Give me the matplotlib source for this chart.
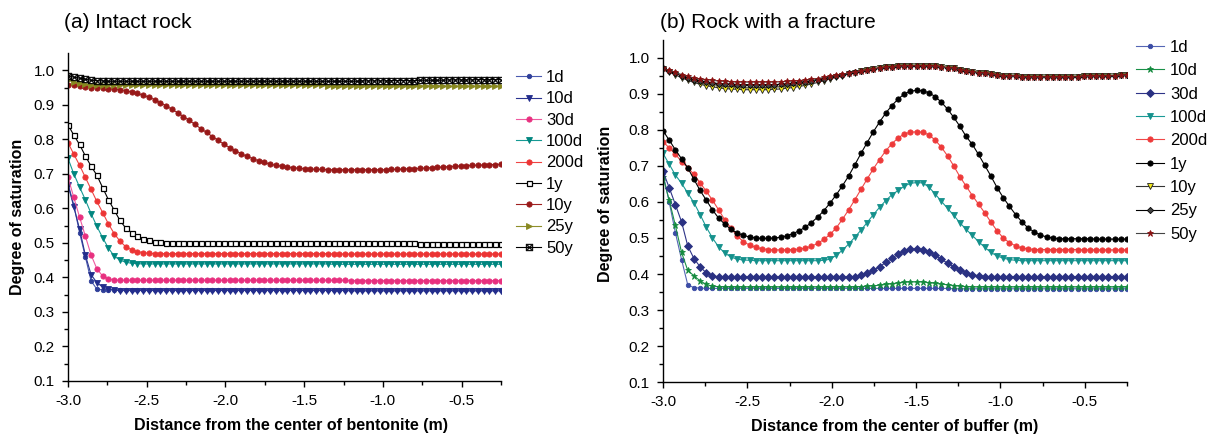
import numpy as np
import matplotlib
matplotlib.use("Agg")
import matplotlib.pyplot as plt

plt.rcParams['font.family'] = ['Liberation Sans', 'DejaVu Sans']

# node positions (m), 76 nodes from -3.0 to -0.25
distance = np.linspace(-3.0, -0.25, 76)

labels = ['1d', '10d', '30d', '100d', '200d', '1y', '10y', '25y', '50y']

# (a) intact rock
a_1d = [0.672, 0.61, 0.53, 0.46, 0.39, 0.366, 0.364] + [0.364] * 30 + [0.363] * 39
a_10d = [0.668, 0.605, 0.54, 0.465, 0.408, 0.385, 0.372, 0.366, 0.363] + [0.362] * 40 + [0.361] * 27
a_30d = [0.69, 0.632, 0.575, 0.52, 0.465, 0.425, 0.404, 0.396, 0.393] + [0.392] * 40 + [0.391] * 27
a_100d = [0.745, 0.70, 0.662, 0.625, 0.585, 0.548, 0.515, 0.485, 0.462, 0.45, 0.444, 0.441,
          0.44] + [0.439] * 33 + [0.438] * 30
a_200d = [0.79, 0.757, 0.725, 0.69, 0.655, 0.62, 0.588, 0.555, 0.527, 0.505, 0.489, 0.48,
          0.475, 0.472, 0.47] + [0.469] * 31 + [0.468] * 30
a_1y = [0.842, 0.812, 0.785, 0.752, 0.722, 0.696, 0.66, 0.625, 0.595, 0.565, 0.543, 0.53,
        0.52, 0.512, 0.507, 0.503, 0.502, 0.501] + [0.5] * 23 + [0.499] * 20 + [0.498] * 15
a_10y = [0.958, 0.956, 0.954, 0.952, 0.950, 0.949, 0.948, 0.947, 0.946, 0.944,
         0.941, 0.937, 0.933, 0.928, 0.922, 0.915, 0.906, 0.897, 0.887, 0.877,
         0.866, 0.855, 0.843, 0.831, 0.82, 0.808, 0.797, 0.786, 0.776, 0.767,
         0.758, 0.751, 0.744, 0.738, 0.733, 0.728, 0.725, 0.722, 0.72, 0.718,
         0.716, 0.715, 0.714, 0.713, 0.713, 0.712, 0.712, 0.712, 0.712, 0.712,
         0.712, 0.712, 0.712, 0.712, 0.712, 0.712, 0.713, 0.713, 0.714, 0.715,
         0.715, 0.716, 0.717, 0.718, 0.719, 0.72, 0.721, 0.722, 0.723, 0.724,
         0.725, 0.725, 0.726, 0.727, 0.727, 0.728]
a_25y = [0.972, 0.966, 0.962, 0.959, 0.958] + [0.957] * 20 + [0.956] * 20 + [0.955] * 10 \
    + [0.955] * 11 + [0.954] * 10
a_50y = [0.984, 0.98, 0.977, 0.974, 0.971, 0.97, 0.969] + [0.968] * 44 + [0.969] * 5 \
    + [0.97] * 5 + [0.971] * 5 + [0.972] * 5 + [0.973] * 5

# (b) rock with a fracture
b_1d = [0.68, 0.60, 0.515, 0.44, 0.37, 0.362, 0.361] + [0.36] * 40 + [0.359] * 29
b_10d = [0.67, 0.605, 0.535, 0.46, 0.41, 0.395, 0.381, 0.371, 0.366, 0.365] + [0.364] * 22 \
    + [0.365, 0.366, 0.367, 0.369, 0.371, 0.373, 0.375, 0.377, 0.378, 0.378, 0.378, 0.376,
       0.374, 0.372, 0.37, 0.368, 0.366, 0.365] + [0.364] * 26
b_30d = [0.685, 0.64, 0.593, 0.545, 0.478, 0.443, 0.42, 0.403, 0.395] + [0.392] * 22 \
    + [0.393, 0.396, 0.402, 0.41, 0.42, 0.432, 0.444, 0.455, 0.464, 0.469, 0.47, 0.468,
       0.462, 0.452, 0.441, 0.43, 0.42, 0.411, 0.404, 0.398, 0.395, 0.393] + [0.392] * 23
b_100d = [0.735, 0.705, 0.675, 0.652, 0.625, 0.598, 0.565, 0.53, 0.50, 0.475, 0.458, 0.447,
          0.441, 0.439, 0.438] + [0.437] * 11 \
    + [0.438, 0.441, 0.452, 0.466, 0.483, 0.502, 0.522, 0.543, 0.565, 0.585, 0.604, 0.62,
       0.632, 0.644, 0.652, 0.654, 0.653, 0.641, 0.622, 0.602, 0.582, 0.563, 0.542, 0.524,
       0.507, 0.49, 0.474, 0.46, 0.45, 0.444, 0.44, 0.438] + [0.437] * 18
b_200d = [0.768, 0.75, 0.733, 0.712, 0.695, 0.677, 0.653, 0.63, 0.605, 0.578,
          0.55, 0.527, 0.505, 0.49, 0.48, 0.474, 0.47, 0.468, 0.467, 0.467,
          0.467, 0.468, 0.469, 0.472, 0.477, 0.485, 0.496, 0.51, 0.528, 0.552,
          0.578, 0.606, 0.635, 0.664, 0.692, 0.718, 0.742, 0.762, 0.778, 0.789,
          0.794, 0.795, 0.794, 0.786, 0.772, 0.752, 0.728, 0.70, 0.67, 0.644,
          0.618, 0.594, 0.57, 0.544, 0.52, 0.5, 0.487, 0.478, 0.472, 0.47] \
    + [0.468] * 8 + [0.467] * 8
b_1y = [0.798, 0.772, 0.745, 0.72, 0.695, 0.663, 0.632, 0.605, 0.578, 0.555,
        0.538, 0.524, 0.514, 0.507, 0.503, 0.5, 0.499, 0.499, 0.5, 0.502,
        0.506, 0.512, 0.52, 0.53, 0.543, 0.558, 0.576, 0.597, 0.62, 0.645,
        0.672, 0.703, 0.735, 0.765, 0.795, 0.822, 0.847, 0.868, 0.886, 0.9,
        0.908, 0.91, 0.909, 0.903, 0.893, 0.877, 0.858, 0.835, 0.81, 0.782,
        0.76, 0.732, 0.702, 0.672, 0.64, 0.612, 0.588, 0.565, 0.545, 0.528,
        0.517, 0.508, 0.503, 0.5] + [0.498] * 6 + [0.497] * 6
b_10y = [0.97, 0.962, 0.953, 0.945, 0.938, 0.932, 0.927, 0.923, 0.92, 0.917,
         0.915, 0.914, 0.913, 0.912, 0.912, 0.912, 0.912, 0.912, 0.913, 0.914,
         0.916, 0.918, 0.921, 0.924, 0.928, 0.932, 0.937, 0.942, 0.947, 0.951,
         0.955, 0.959, 0.963, 0.966, 0.969, 0.972, 0.974, 0.976, 0.977, 0.978,
         0.979, 0.979, 0.979, 0.978, 0.977, 0.975, 0.973, 0.971, 0.968, 0.965,
         0.962, 0.959, 0.957, 0.955, 0.953, 0.951, 0.95, 0.949, 0.948, 0.947,
         0.947, 0.947, 0.947, 0.947, 0.947, 0.948, 0.948, 0.948, 0.949, 0.949,
         0.95, 0.95, 0.951, 0.951, 0.952, 0.952]
b_25y = [0.971, 0.964, 0.957, 0.95, 0.944, 0.94, 0.936, 0.933, 0.931, 0.929,
         0.928, 0.927, 0.926, 0.926, 0.926, 0.926, 0.926, 0.926, 0.926, 0.927,
         0.928, 0.93, 0.932, 0.934, 0.937, 0.94, 0.943, 0.947, 0.95, 0.954,
         0.957, 0.96, 0.963, 0.966, 0.969, 0.972, 0.974, 0.976, 0.977, 0.978,
         0.979, 0.979, 0.979, 0.978, 0.977, 0.975, 0.973, 0.971, 0.968, 0.965,
         0.962, 0.959, 0.957, 0.955, 0.953, 0.951, 0.95, 0.949, 0.948, 0.947,
         0.947, 0.947, 0.947, 0.947, 0.947, 0.948, 0.948, 0.948, 0.949, 0.949,
         0.95, 0.95, 0.951, 0.951, 0.952, 0.952]
b_50y = [0.972, 0.966, 0.96, 0.954, 0.949, 0.945, 0.942, 0.94, 0.938, 0.936,
         0.935, 0.934, 0.933, 0.933, 0.933, 0.933, 0.933, 0.933, 0.933, 0.934,
         0.935, 0.936, 0.937, 0.939, 0.941, 0.943, 0.946, 0.949, 0.952, 0.955,
         0.958, 0.961, 0.964, 0.967, 0.97, 0.972, 0.974, 0.976, 0.977, 0.978,
         0.979, 0.979, 0.979, 0.978, 0.977, 0.975, 0.973, 0.971, 0.968, 0.965,
         0.962, 0.959, 0.957, 0.955, 0.953, 0.951, 0.95, 0.949, 0.948, 0.947,
         0.947, 0.947, 0.947, 0.947, 0.947, 0.948, 0.948, 0.948, 0.949, 0.949,
         0.95, 0.95, 0.951, 0.951, 0.952, 0.952]

series_a = [a_1d, a_10d, a_30d, a_100d, a_200d, a_1y, a_10y, a_25y, a_50y]
series_b = [b_1d, b_10d, b_30d, b_100d, b_200d, b_1y, b_10y, b_25y, b_50y]

# (line colour, marker, marker face, marker edge, marker size)
style_a = [
    ('#4a5bb0', 'o', '#2f3f99', '#2f3f99', 3.2),
    ('#2a3490', 'v', '#232d8c', '#232d8c', 4.2),
    ('#ef5aa0', 'o', '#e8307f', '#e8307f', 3.8),
    ('#169a94', 'v', '#00867f', '#00867f', 4.2),
    ('#ef4444', 'o', '#ec3434', '#ec3434', 3.8),
    ('black', 's', 'white', 'black', 3.6),
    ('#a02020', 'o', '#981818', '#981818', 3.8),
    ('#8f8f2a', '>', '#888820', '#888820', 3.8),
    ('black', r'$\boxtimes$', 'black', 'black', 5.0),
]
style_b = [
    ('#5566b5', 'o', '#3b4ca5', '#3b4ca5', 3.2),
    ('#1a9048', '*', '#148a3e', '#148a3e', 4.8),
    ('#2e3488', 'D', '#2a3182', '#2a3182', 3.6),
    ('#1a9a96', 'v', '#15918c', '#15918c', 4.2),
    ('#f04848', 'o', '#ee3a3a', '#ee3a3a', 3.8),
    ('black', 'o', 'black', 'black', 3.8),
    ('#333333', 'v', '#f2e81a', '#222222', 4.2),
    ('black', 'D', '#444444', 'black', 3.2),
    ('#444444', '*', '#8b1010', '#8b1010', 4.6),
]

W, H = 1221, 437
fig = plt.figure(figsize=(W / 100, H / 100), dpi=100)


def px_axes(x0, x1, y_top, y_bot):
    return fig.add_axes([x0 / W, 1 - y_bot / H, (x1 - x0) / W, (y_bot - y_top) / H])


def draw_panel(ax, series, styles, xlabel):
    for ys, lab, (lc, mk, mfc, mec, ms) in zip(series, labels, styles):
        mew = 0.9 if mfc == 'white' else 0.6
        if mk.startswith('$'):
            mew = 0.3
        ax.plot(distance, ys, color=lc, lw=0.8, marker=mk, ms=ms, mfc=mfc, mec=mec,
                mew=mew, label=lab)
    ax.set_xlim(-3.0, -0.25)
    ax.set_ylim(0.1, 1.05)
    ax.set_xticks([-3.0, -2.5, -2.0, -1.5, -1.0, -0.5])
    ax.set_xticks([-2.75, -2.25, -1.75, -1.25, -0.75, -0.25], minor=True)
    ax.set_xticklabels(['-3.0', '-2.5', '-2.0', '-1.5', '-1.0', '-0.5'])
    ax.set_yticks([0.1, 0.2, 0.3, 0.4, 0.5, 0.6, 0.7, 0.8, 0.9, 1.0])
    ax.set_yticks(np.arange(0.15, 1.05, 0.1), minor=True)
    for s in ['top', 'right']:
        ax.spines[s].set_visible(False)
    for s in ['left', 'bottom']:
        ax.spines[s].set_linewidth(1.0)
    ax.tick_params(which='major', direction='out', length=4.5, width=1.0, labelsize=11)
    ax.tick_params(axis='x', which='major', pad=5)
    ax.tick_params(axis='y', which='major', pad=5)
    ax.tick_params(which='minor', direction='out', length=3, width=1.0)
    ax.set_ylabel('Degree of saturation', fontsize=11.5, fontweight='bold')
    ax.set_xlabel(xlabel, fontsize=11.5, fontweight='bold')
    return ax


ax1 = px_axes(68, 501, 53, 381)
draw_panel(ax1, series_a, style_a, 'Distance from the center of bentonite (m)')
ax1.yaxis.set_label_coords(-0.1, 0.5)
ax1.xaxis.set_label_coords(0.515, -0.114)
ax1.legend(loc='upper left', bbox_to_anchor=(516 / W, 1 - 70 / H),
           bbox_transform=fig.transFigure, frameon=False, fontsize=12,
           handlelength=1.5, handletextpad=0.3, labelspacing=0.38,
           borderaxespad=0, borderpad=0)

ax2 = px_axes(663, 1127, 40, 382)
draw_panel(ax2, series_b, style_b, 'Distance from the center of buffer (m)')
ax2.yaxis.set_label_coords(-0.108, 0.52)
ax2.xaxis.set_label_coords(0.5, -0.108)
ax2.legend(loc='upper left', bbox_to_anchor=(1136 / W, 1 - 40 / H),
           bbox_transform=fig.transFigure, frameon=False, fontsize=12,
           handlelength=1.7, handletextpad=0.35, labelspacing=0.5,
           borderaxespad=0, borderpad=0)

fig.text(64 / W, 1 - 22 / H, '(a) Intact rock', fontsize=15, va='center', ha='left')
fig.text(660 / W, 1 - 22 / H, '(b) Rock with a fracture', fontsize=15, va='center', ha='left')

fig.savefig('out.png', dpi=100)
